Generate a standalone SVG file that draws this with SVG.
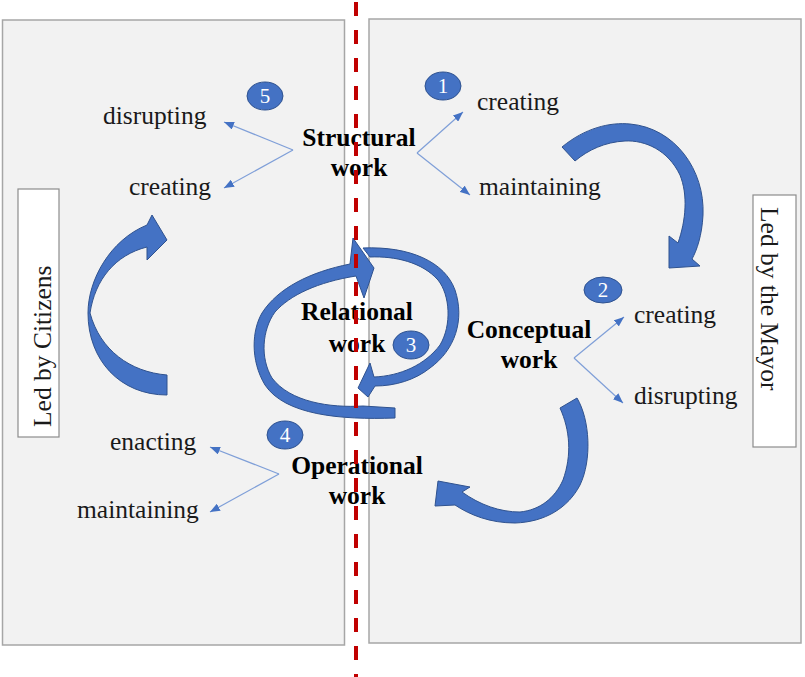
<svg xmlns="http://www.w3.org/2000/svg" width="805" height="677" viewBox="0 0 805 677">
<defs>
<style>
.panel{fill:#f2f2f2;stroke:#a6a6a6;stroke-width:1.5}
.lbl{font-family:"Liberation Serif","Times New Roman",serif;font-size:25.5px;fill:#1a1a1a}
.bold{font-family:"Liberation Serif","Times New Roman",serif;font-size:25.5px;font-weight:bold;fill:#000;text-anchor:middle}
.badge{fill:#4472c4;stroke:#2f528f;stroke-width:1}
.num{font-family:"Liberation Serif","Times New Roman",serif;font-size:21px;fill:#fff;text-anchor:middle}
.thin{fill:none;stroke:#7f9fd8;stroke-width:1.2;marker-end:url(#ah)}
.big{fill:#4472c4;stroke:#2f528f;stroke-width:1;stroke-linejoin:round}
.side{fill:#fff;stroke:#8c8c8c;stroke-width:1.2}
</style>
<marker id="ah" viewBox="0 0 10 8" refX="10" refY="4" markerWidth="10" markerHeight="8" markerUnits="userSpaceOnUse" orient="auto">
<path d="M0,0 L10,4 L0,8 z" fill="#4472c4"/>
</marker>
</defs>
<rect x="0" y="0" width="805" height="677" fill="#fff"/>
<rect class="panel" x="2.5" y="20" width="342" height="625"/>
<rect class="panel" x="369" y="19" width="432" height="624"/>

<g id="led-citizens">
<rect class="side" x="18" y="189" width="41" height="248"/>
<text class="lbl" font-size="26" transform="translate(51,427) rotate(-90)">Led by Citizens</text>
</g>
<g id="led-mayor">
<rect class="side" x="753" y="195" width="43" height="252"/>
<text class="lbl" transform="translate(761,207) rotate(90)">Led by the Mayor</text>
</g>

<g id="connectors">
<path class="thin" d="M293,150 L224,122"/>
<path class="thin" d="M293,150 L224,188"/>
<path class="thin" d="M417,153 L463,112"/>
<path class="thin" d="M417,153 L470,195"/>
<path class="thin" d="M574,358 L624,317"/>
<path class="thin" d="M574,358 L623,403"/>
<path class="thin" d="M279,474 L210,447"/>
<path class="thin" d="M279,474 L210,512"/>
<path class="big" d="M562,147 C585,128 610,122 630,124 C675,128 705,170 703,215 C702,235 697,250 692,259 L700,266 L669,268 L669,236 L678,243 C686,220 688,195 680,175 C668,150 645,140 625,141 C605,142 588,150 575,161 Z"/>
<path class="big" d="M560,408 L577,398 C590,420 592,460 580,485 C568,508 545,522 515,523 C490,523 470,515 455,505 L435,506 L438,481 L470,487 L462,492 C480,505 500,512 520,512 C540,510 555,498 563,480 C572,455 570,430 560,408 Z"/>
<path class="big" d="M167,395 L167,375 C130,372 100,350 90,313 C95,280 115,255 147,247 L147,260 L167,240 L152,215 L147,225 C110,240 88,280 88,313 C88,360 120,395 167,395 Z"/>
<path class="big" d="M363,248 C410,246 445,262 455,290 C465,320 455,350 430,368 C415,380 395,386 375,386 L368,397 L358,388 L370,363 L374,377 C400,376 425,365 440,345 C452,325 450,295 438,280 C422,262 395,256 370,257 Z"/>
<path class="big" d="M395,408 L395,418 C340,420 285,415 265,385 C250,360 252,330 262,313 C278,288 310,272 350,264 L353,238 L374,268 L364,298 L356,276 C318,282 290,295 275,312 C262,330 260,358 272,378 C290,402 330,408 363,406 Z"/>
</g>

<g id="structural">
<text class="bold" x="359" y="146">Structural</text>
<text class="bold" x="359" y="176">work</text>
<text class="lbl" x="103" y="124">disrupting</text>
<text class="lbl" x="129" y="195">creating</text>
<text class="lbl" x="477" y="110">creating</text>
<text class="lbl" x="479" y="195">maintaining</text>
<ellipse class="badge" cx="265" cy="96" rx="18" ry="14"/>
<text class="num" x="265" y="103">5</text>
<ellipse class="badge" cx="443" cy="86" rx="18" ry="14"/>
<text class="num" x="443" y="93">1</text>
</g>

<g id="conceptual">
<text class="bold" x="529" y="338">Conceptual</text>
<text class="bold" x="529" y="368">work</text>
<text class="lbl" x="634" y="323">creating</text>
<text class="lbl" x="634" y="404">disrupting</text>
<ellipse class="badge" cx="603" cy="290" rx="19" ry="13"/>
<text class="num" x="603" y="297">2</text>
</g>

<g id="relational">
<text class="bold" x="357" y="320">Relational</text>
<text class="bold" x="357" y="352">work</text>
<ellipse class="badge" cx="411" cy="345" rx="18" ry="14"/>
<text class="num" x="411" y="352">3</text>
</g>

<g id="operational">
<text class="bold" x="357" y="474">Operational</text>
<text class="bold" x="357" y="504">work</text>
<text class="lbl" x="110" y="450">enacting</text>
<text class="lbl" x="77" y="518">maintaining</text>
<ellipse class="badge" cx="285" cy="435" rx="18" ry="14"/>
<text class="num" x="285" y="442">4</text>
</g>

<line x1="356" y1="2" x2="356" y2="677" stroke="#c00000" stroke-width="4" stroke-dasharray="14 14"/>
</svg>
